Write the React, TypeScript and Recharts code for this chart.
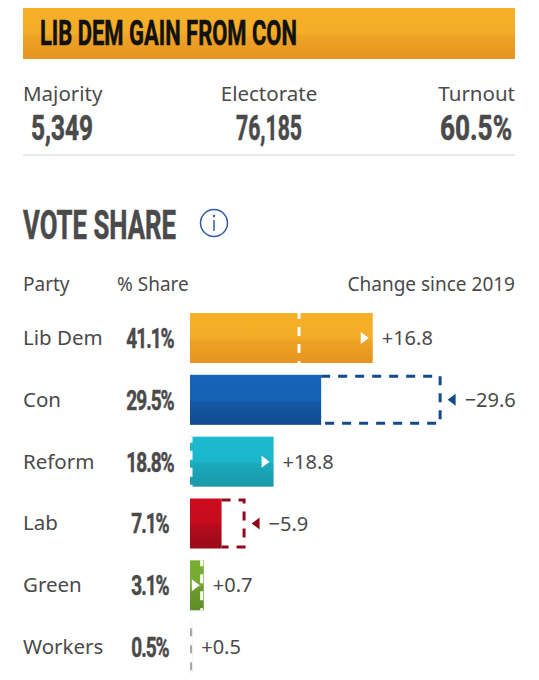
import React from "react";
import { BarChart, Bar, XAxis, YAxis } from "recharts";

const parties = ["Lib Dem", "Con", "Reform", "Lab", "Green", "Workers"];
const shares = [41.1, 29.5, 18.8, 7.1, 3.1, 0.5];
const previous = [24.3, 56.6, 0, 12.5, 2.4, 0];
const changes = ["+16.8", "\u221229.6", "+18.8", "\u22125.9", "+0.7", "+0.5"];
const partyKeys = ["ld", "con", "ref", "lab", "grn", "wrk"];
const stops: Record<string, string[]> = {
  ld: ["#f6b128", "#f3ac27", "#eea325", "#e5941f"],
  con: ["#1664b8", "#1561b4", "#1358a5", "#124b8f"],
  ref: ["#1dbbd0", "#1bb5ca", "#1aaabd", "#1a98a8"],
  lab: ["#cb0c1e", "#c50c1d", "#b60b1c", "#980a18"],
  grn: ["#79ae33", "#75a931", "#6c9c2d", "#5f8c28"],
  wrk: ["#a8a8a8", "#a8a8a8", "#a8a8a8", "#a8a8a8"],
};
const dashColors: Record<string, string> = { con: "#134a8e", lab: "#8f0a1c" };

const rows = parties.map((party, i) => ({
  party,
  key: partyKeys[i],
  share: shares[i],
  prev: previous[i],
  reach: Math.max(shares[i], previous[i]),
  change: changes[i],
}));

const INK = "#4a4a4a";
const BODY = "'Noto Sans', sans-serif";
const COND = "'Liberation Sans Narrow', 'Roboto', sans-serif";

const RowTick = (props: any) => {
  const { y, payload } = props;
  const row = rows.find((r) => r.party === payload.value)!;
  return (
    <g>
      <text x={23} y={y + 7} fontFamily={BODY} fontSize={20.5} fill={INK}>{row.party}</text>
      <text
        transform={`translate(150 ${y + 10}) scale(0.68 1)`}
        textAnchor="middle"
        fontFamily={COND}
        fontWeight={700}
        fontSize={28}
        letterSpacing={-1.5}
        fill={INK}
        stroke={INK}
        strokeWidth={0.5}
      >
        {row.share}%
      </text>
    </g>
  );
};

const ShareShape = (props: any) => {
  const { x, y, width, height, payload } = props;
  const cy = y + height / 2;
  return (
    <g>
      <rect x={x} y={y} width={width} height={height} fill={`url(#grad-${payload.key})`} />
      {payload.prev < payload.share && width > 6 ? (
        <path d={`M${x + width - 12} ${cy - 6}L${x + width - 4} ${cy}L${x + width - 12} ${cy + 6}Z`} fill="#fff" />
      ) : null}
    </g>
  );
};

const PrevShape = (props: any) => {
  const { x, y, width, height, payload } = props;
  const right = x + width;
  if (payload.prev > payload.share) {
    const left = x + (width * payload.share) / payload.prev;
    return (
      <path
        d={`M${left} ${y + 1.5}H${right - 1.5}V${y + height - 1.5}H${left}`}
        fill="none"
        stroke={dashColors[payload.key]}
        strokeWidth={3}
        strokeDasharray="9 8"
      />
    );
  }
  return (
    <line x1={right + 1} x2={right + 1} y1={y} y2={y + height} stroke="#fff" strokeWidth={3} strokeDasharray="9 8" strokeDashoffset={3} />
  );
};

const ChangeShape = (props: any) => {
  const { x, y, width, height, payload } = props;
  const right = x + width;
  const cy = y + height / 2;
  const falling = payload.prev > payload.share;
  return (
    <g>
      {falling ? (
        <path d={`M${right + 14} ${cy - 6}L${right + 6} ${cy}L${right + 14} ${cy + 6}Z`} fill={dashColors[payload.key]} />
      ) : null}
      <text x={right + (falling ? 23 : 9)} y={cy + 7} fontFamily={BODY} fontSize={20} fill={INK}>{payload.change}</text>
    </g>
  );
};

const Fit = ({ x, y, w, size, fill, children }: any) => (
  <text x={x} y={y} textLength={w} lengthAdjust="spacingAndGlyphs" fontFamily={COND} fontWeight={700} fontSize={size} fill={fill} stroke={fill} strokeWidth={0.6}>
    {children}
  </text>
);
const Label = ({ x, y, anchor = "start", size = 19, children }: any) => (
  <text x={x} y={y} textAnchor={anchor} fontFamily={BODY} fontSize={size} fill={INK}>{children}</text>
);

export default function App() {
  return (
    <div style={{ position: "absolute", left: 0, top: 0, width: 539, height: 680, background: "#fff", overflow: "hidden" }}>
      <svg width={539} height={300} style={{ position: "absolute", left: 0, top: 0 }}>
        <defs>
          <linearGradient id="banner" x1="0" y1="0" x2="0" y2="1">
            <stop offset="0" stopColor="#f6b128" />
            <stop offset="0.5" stopColor="#f3ac27" />
            <stop offset="0.55" stopColor="#eea325" />
            <stop offset="1" stopColor="#e5941f" />
          </linearGradient>
        </defs>
        <rect x={23} y={8} width={492} height={51} fill="url(#banner)" />
        <Fit x={40} y={45} w={257} size={35} fill="#111">LIB DEM GAIN FROM CON</Fit>
        <Label x={23} y={101} size={20.5}>Majority</Label>
        <Label x={269} y={101} anchor="middle" size={20.5}>Electorate</Label>
        <Label x={515} y={101} anchor="end" size={20.5}>Turnout</Label>
        <Fit x={31} y={140} w={62} size={35} fill={INK}>5,349</Fit>
        <Fit x={236} y={140} w={66} size={35} fill={INK}>76,185</Fit>
        <Fit x={440} y={140} w={72} size={35} fill={INK}>60.5%</Fit>
        <line x1={23} x2={515} y1={155} y2={155} stroke="#e2e2e2" strokeWidth={1.5} />
        <Fit x={23} y={239} w={153} size={40} fill={INK}>VOTE SHARE</Fit>
        <circle cx={214} cy={223} r={13.5} fill="none" stroke="#2f5aa8" strokeWidth={1.5} />
        <circle cx={214} cy={216} r={1.2} fill="#2f5aa8" />
        <line x1={214} x2={214} y1={220} y2={231} stroke="#2f5aa8" strokeWidth={1.5} />
        <Label x={23} y={291}>Party</Label>
        <Label x={117} y={291} size={19}>% Share</Label>
        <Label x={515} y={291} anchor="end" size={19}>Change since 2019</Label>
      </svg>
      <div style={{ position: "absolute", left: 0, top: 307 }}>
        <BarChart
          width={539}
          height={371}
          layout="vertical"
          data={rows}
          margin={{ top: 0, right: 0, bottom: 0, left: 0 }}
          barSize={50}
          barGap={-50}
        >
          <defs>
            {partyKeys.map((k) => (
              <linearGradient key={k} id={`grad-${k}`} x1="0" y1="0" x2="0" y2="1">
                <stop offset="0" stopColor={stops[k][0]} />
                <stop offset="0.5" stopColor={stops[k][1]} />
                <stop offset="0.55" stopColor={stops[k][2]} />
                <stop offset="1" stopColor={stops[k][3]} />
              </linearGradient>
            ))}
          </defs>
          <XAxis type="number" hide domain={[0, 78.5]} />
          <YAxis type="category" dataKey="party" width={190} axisLine={false} tickLine={false} tick={<RowTick />} interval={0} />
          <Bar dataKey="share" isAnimationActive={false} shape={<ShareShape />} />
          <Bar dataKey="prev" isAnimationActive={false} shape={<PrevShape />} />
          <Bar dataKey="reach" isAnimationActive={false} shape={<ChangeShape />} />
        </BarChart>
      </div>
    </div>
  );
}
